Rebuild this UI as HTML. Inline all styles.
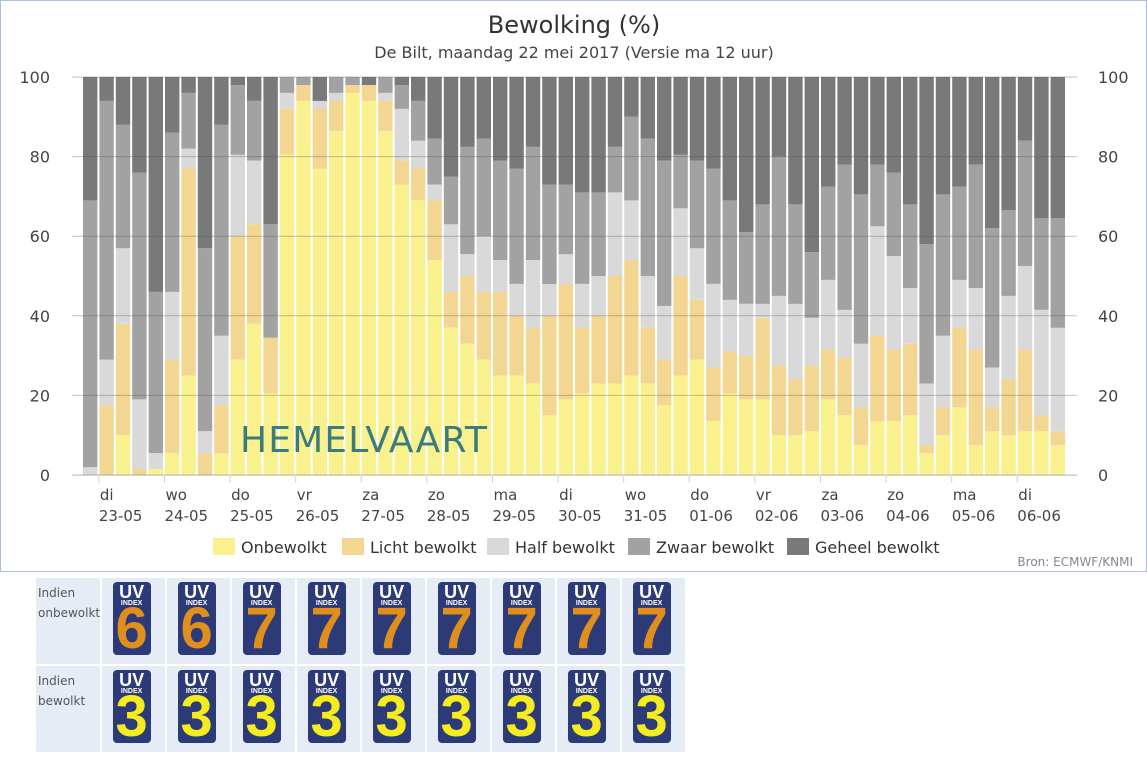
<!DOCTYPE html>
<html><head><meta charset="utf-8"><style>
body{margin:0;background:#fff;font-family:"Liberation Sans","DejaVu Sans",sans-serif;}
#wrap{position:relative;width:1147px;height:760px;overflow:hidden;}
#chart{position:absolute;left:0;top:0;}
table{position:absolute;left:34px;top:576px;border-collapse:separate;border-spacing:2px;}
td{background:#e6ecf6;width:63px;height:86px;box-sizing:border-box;padding:0;vertical-align:middle;text-align:center;}
td.l{width:62px;text-align:left;vertical-align:top;font-size:12px;color:#555;line-height:20px;padding-top:5px;padding-left:2px;font-family:"DejaVu Sans",sans-serif;}
.uv{display:inline-block;width:38px;height:73px;background:#2c3a78;border-radius:4px;position:relative;color:#fff;margin-left:-4px;}
.uv .a{position:absolute;top:1px;left:0;width:100%;font-size:18px;font-weight:bold;line-height:18px;}
.uv .b{position:absolute;top:18px;left:0;width:100%;font-size:7px;font-weight:bold;line-height:8px;}
.uv .c{position:absolute;top:20px;left:0;width:100%;font-size:58px;font-weight:bold;line-height:54px;}
</style></head><body><div id="wrap">
<svg id="chart" width="1147" height="572" xmlns="http://www.w3.org/2000/svg"></svg>
<table>
<tr><td class="l">Indien onbewolkt</td>
<td><div class="uv"><div class="a">UV</div><div class="b">INDEX</div><div class="c" style="color:#e08e1c">6</div></div></td>
<td><div class="uv"><div class="a">UV</div><div class="b">INDEX</div><div class="c" style="color:#e08e1c">6</div></div></td>
<td><div class="uv"><div class="a">UV</div><div class="b">INDEX</div><div class="c" style="color:#e08e1c">7</div></div></td>
<td><div class="uv"><div class="a">UV</div><div class="b">INDEX</div><div class="c" style="color:#e08e1c">7</div></div></td>
<td><div class="uv"><div class="a">UV</div><div class="b">INDEX</div><div class="c" style="color:#e08e1c">7</div></div></td>
<td><div class="uv"><div class="a">UV</div><div class="b">INDEX</div><div class="c" style="color:#e08e1c">7</div></div></td>
<td><div class="uv"><div class="a">UV</div><div class="b">INDEX</div><div class="c" style="color:#e08e1c">7</div></div></td>
<td><div class="uv"><div class="a">UV</div><div class="b">INDEX</div><div class="c" style="color:#e08e1c">7</div></div></td>
<td><div class="uv"><div class="a">UV</div><div class="b">INDEX</div><div class="c" style="color:#e08e1c">7</div></div></td>
</tr>
<tr><td class="l">Indien bewolkt</td>
<td><div class="uv"><div class="a">UV</div><div class="b">INDEX</div><div class="c" style="color:#f4ec1e">3</div></div></td>
<td><div class="uv"><div class="a">UV</div><div class="b">INDEX</div><div class="c" style="color:#f4ec1e">3</div></div></td>
<td><div class="uv"><div class="a">UV</div><div class="b">INDEX</div><div class="c" style="color:#f4ec1e">3</div></div></td>
<td><div class="uv"><div class="a">UV</div><div class="b">INDEX</div><div class="c" style="color:#f4ec1e">3</div></div></td>
<td><div class="uv"><div class="a">UV</div><div class="b">INDEX</div><div class="c" style="color:#f4ec1e">3</div></div></td>
<td><div class="uv"><div class="a">UV</div><div class="b">INDEX</div><div class="c" style="color:#f4ec1e">3</div></div></td>
<td><div class="uv"><div class="a">UV</div><div class="b">INDEX</div><div class="c" style="color:#f4ec1e">3</div></div></td>
<td><div class="uv"><div class="a">UV</div><div class="b">INDEX</div><div class="c" style="color:#f4ec1e">3</div></div></td>
<td><div class="uv"><div class="a">UV</div><div class="b">INDEX</div><div class="c" style="color:#f4ec1e">3</div></div></td>
</tr></table>
</div>
<script>
var D=[[0,0,2,69],[0,17.5,29,94],[10,38,57,88],[0,1.5,19,76],[1.5,1.5,5.5,46],[5.5,29,46,86],[25,77,82,96],[0,5.5,11,57],[5.5,17.5,35,88],[29,60,80.5,98],
[38,63,79,94],[20.5,34.5,34.5,63],[80.5,92,96,100],[94,98,98,100],[77,92,94,94],[86.5,94,96,100],[96,98,98,100],[94,98,98,98],[86.5,94,96,100],[73,79,92,98],
[69,77,84,94],[54,69,73,84.5],[37,46,63,75],[33,50,55.5,82.5],[29,46,60,84.5],[25,46,54,79],[25,40,48,77],[23,37,54,82.5],[15,40,48,73],[19,48,55.5,73],
[20.5,37,48,71],[23,40,50,71],[23,50,71,82.5],[25,54,69,90],[23,37,50,84.5],[17.5,29,42.5,79],[25,50,67,80.5],[29,44,57,79],[13.5,27,48,77],[20.5,31,44,69],
[19,30,43,61],[19,39.5,43,68],[10,27.5,45,80],[10,24,43,68],[11,27.5,39.5,56],[19,31.5,49,72.5],[15,29.5,41.5,78],[7.5,17,33,70.5],[13.5,35,62.5,78],[13.5,31.5,55,76],
[15,33,47,68],[5.5,7.5,23,58],[10,17,35,70.5],[17,37,49,72.5],[7.5,31.5,47,78],[11,17,27,62],[10,24,45,66.5],[11,31.5,52.5,84],[11,15,41.5,64.5],[7.5,11,37,64.5]];
var C=['#f9f08e','#f3d692','#d9d9d9','#a2a2a2','#797979'];
var s='<rect x="0.5" y="0.5" width="1146" height="571" fill="#fff" stroke="#a9bfe3"/>';
var y=function(p){return 475-p*3.98;};
var x0=83,pw=16.4,bw=14.4;
for(var i=0;i<60;i++){var d=D[i].concat([100]);var prev=0;var x=x0+i*pw;
for(var k=0;k<5;k++){var t=d[k];if(t>prev){s+='<rect x="'+x.toFixed(1)+'" y="'+y(t).toFixed(1)+'" width="'+bw+'" height="'+((t-prev)*3.98).toFixed(1)+'" fill="'+C[k]+'"/>';}prev=Math.max(prev,t);}}
for(var g=0;g<=100;g+=20){var yy=y(g);s+='<line x1="72" x2="1077" y1="'+yy+'" y2="'+yy+'" stroke="rgba(80,80,80,0.35)" stroke-width="1"/>';
s+='<text x="50" y="'+(yy+6)+'" font-size="16" fill="#444" text-anchor="end" font-family="DejaVu Sans,sans-serif">'+g+'</text>';
s+='<text x="1098" y="'+(yy+6)+'" font-size="16" fill="#444" font-family="DejaVu Sans,sans-serif">'+g+'</text>';}
s+='<line x1="72" x2="1077" y1="475.5" y2="475.5" stroke="#c8d4e6"/>';
var dn=['di','wo','do','vr','za','zo','ma','di','wo','do','vr','za','zo','ma','di'];
var dt=['23-05','24-05','25-05','26-05','27-05','28-05','29-05','30-05','31-05','01-06','02-06','03-06','04-06','05-06','06-06'];
for(var j=0;j<15;j++){var tx=x0+pw*(1+4*j)-0.5;s+='<line x1="'+tx+'" x2="'+tx+'" y1="476" y2="483" stroke="#c8d4e6"/>';
s+='<text x="'+(tx+1)+'" y="500" font-size="15" fill="#444" font-family="DejaVu Sans,sans-serif">'+dn[j]+'</text>';
s+='<text x="'+(tx)+'" y="521" font-size="15" fill="#444" font-family="DejaVu Sans,sans-serif">'+dt[j]+'</text>';}
s+='<text x="240" y="452" font-size="36" fill="#3c7b7b" textLength="247" font-family="DejaVu Sans,sans-serif">HEMELVAART</text>';
s+='<text x="574" y="33" font-size="24" fill="#333" text-anchor="middle" font-family="DejaVu Sans,sans-serif">Bewolking (%)</text>';
s+='<text x="574" y="58" font-size="16" fill="#444" text-anchor="middle" font-family="DejaVu Sans,sans-serif">De Bilt, maandag 22 mei 2017 (Versie ma 12 uur)</text>';
var L=[['Onbewolkt',213],['Licht bewolkt',342],['Half bewolkt',487],['Zwaar bewolkt',628],['Geheel bewolkt',787]];
for(var m=0;m<5;m++){s+='<rect x="'+L[m][1]+'" y="538" width="22" height="17" fill="'+C[m]+'"/>';
s+='<text x="'+(L[m][1]+28)+'" y="553" font-size="16" fill="#333" font-family="DejaVu Sans,sans-serif">'+L[m][0]+'</text>';}
s+='<text x="1133" y="566" font-size="12" fill="#888" text-anchor="end" font-family="DejaVu Sans,sans-serif">Bron: ECMWF/KNMI</text>';
document.getElementById('chart').innerHTML=s;
</script>
</body></html>
